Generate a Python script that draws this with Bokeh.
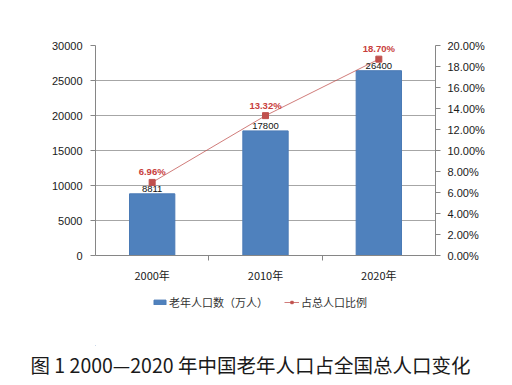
from bokeh.plotting import figure
from bokeh.layouts import column
from bokeh.models import (Range1d, LinearAxis, FixedTicker, PrintfTickFormatter,
                          Legend, LegendItem, Title, ColumnDataSource)
from bokeh.core.properties import value
from bokeh.embed import file_html
from bokeh.resources import INLINE
import numpy as np

categories = ["2000年", "2010年", "2020年"]
elderly = [8811, 17800, 26400]          # 老年人口数（万人）
ratio = [6.96, 13.32, 18.70]           # 占总人口比例 (%)
left_ticks = [0, 5000, 10000, 15000, 20000, 25000, 30000]
right_ticks = [0, 2, 4, 6, 8, 10, 12, 14, 16, 18, 20]
series_names = ["老年人口数（万人）", "占总人口比例"]
caption = "图 1  2000—2020 年中国老年人口占全国总人口变化"

BAR = "#4f81bd"
RED = "#c0504d"
xpos = np.arange(len(categories)) + 0.5
src = ColumnDataSource(dict(
    x=xpos, top=elderly, pct=ratio,
    top_lbl=[str(v) for v in elderly],
    pct_lbl=[f"{v:.2f}%" for v in ratio],
))

FONT = "Liberation Sans"
CJK = "Noto Sans CJK SC"

p = figure(frame_width=340, frame_height=210, x_range=Range1d(0, 3), y_range=Range1d(0, 30000),
           output_backend="svg", toolbar_location=None,
           min_border_left=95, min_border_right=61, min_border_top=45, min_border_bottom=0)
p.extra_y_ranges = {"pct": Range1d(0, 20)}
p.outline_line_color = None

# x axis
xa = p.xaxis[0]
xa.ticker = FixedTicker(ticks=list(xpos), minor_ticks=[1, 2])
xa.major_label_overrides = {float(x): c for x, c in zip(xpos, categories)}
xa.major_tick_out = 0
xa.major_tick_in = 0
xa.minor_tick_out = 5
xa.minor_tick_in = 0
xa.minor_tick_line_color = "#868686"
xa.axis_line_color = "#868686"
xa.major_label_standoff = 6
xa.major_label_text_font = CJK
xa.major_label_text_font_size = "11px"
xa.major_label_text_color = "#1a1a1a"

# left axis
ya = p.yaxis[0]
ya.ticker = FixedTicker(ticks=left_ticks)
ya.axis_line_color = "#868686"
ya.major_tick_line_color = "#868686"
ya.major_tick_out = 5
ya.major_tick_in = 0
ya.minor_tick_line_color = None
ya.major_label_standoff = 8
ya.major_label_text_font = FONT
ya.major_label_text_font_size = "11px"
ya.major_label_text_color = "#1a1a1a"

p.xgrid.visible = False
p.ygrid.ticker = FixedTicker(ticks=left_ticks)
p.ygrid.grid_line_color = "#a6a6a6"

# right axis
ra = LinearAxis(y_range_name="pct", ticker=FixedTicker(ticks=right_ticks),
                formatter=PrintfTickFormatter(format="%.2f%%"))
ra.axis_line_color = "#868686"
ra.major_tick_line_color = "#868686"
ra.major_tick_out = 5
ra.major_tick_in = 0
ra.minor_tick_line_color = None
ra.major_label_standoff = 7
ra.major_label_text_font = FONT
ra.major_label_text_font_size = "11px"
ra.major_label_text_color = "#1a1a1a"
p.add_layout(ra, "right")

p.vbar(x="x", top="top", width=0.4, source=src, fill_color=BAR, line_color="#4a7ab5")
p.line(x="x", y="pct", source=src, y_range_name="pct",
       line_color=RED, line_width=1, line_alpha=0.75)
p.scatter(x="x", y="pct", source=src, y_range_name="pct", marker="square",
          size=6, fill_color=RED, line_color=RED)

p.text(x="x", y="top", text="top_lbl", source=src, text_align="center",
       text_baseline="bottom", y_offset=-2, text_font=value(FONT),
       text_font_size="9.5px", text_color="#111111")
p.text(x="x", y="pct", text="pct_lbl", source=src, y_range_name="pct",
       text_align="center", text_baseline="bottom", y_offset=-5,
       text_font=value(FONT), text_font_size="9.5px", text_font_style="bold",
       text_color="#c8403c")

# lower strip: legend + caption
FH2 = 60
q = figure(frame_width=340, frame_height=FH2, x_range=Range1d(0, 1), y_range=Range1d(0, 1),
           output_backend="svg", toolbar_location=None,
           min_border_left=95, min_border_right=61, min_border_top=0, min_border_bottom=0,
           x_axis_location=None, y_axis_location=None)
q.outline_line_color = None
q.grid.visible = False
# legend proxies: one point placed outside the visible range
proxy = ColumnDataSource(dict(x=[-5], y=[-5]))
lb = q.vbar(x="x", top="y", width=1, source=proxy, fill_color=BAR, line_color="#4a7ab5")
ll = q.line(x="x", y="y", source=proxy, line_color=RED, line_width=1, line_alpha=0.75)
lm = q.scatter(x="x", y="y", source=proxy, marker="square", size=4,
               fill_color=RED, line_color=RED)

legend = Legend(items=[LegendItem(label=series_names[0], renderers=[lb]),
                       LegendItem(label=series_names[1], renderers=[ll, lm])],
                orientation="horizontal", location=(57, 35))
legend.background_fill_alpha = 0
legend.border_line_color = None
legend.label_text_font = CJK
legend.label_text_font_size = "11px"
legend.label_text_color = "#333333"
legend.label_height = 16
legend.glyph_width = 15
legend.glyph_height = 6
legend.label_standoff = 2
legend.spacing = 16
legend.padding = 0
legend.margin = 0
q.add_layout(legend, "center")

cap = Title(text=caption, align="left", offset=-65, standoff=5,
            text_font=CJK, text_font_size="19.5px", text_font_style="normal",
            text_color="#1a1a1a")
q.add_layout(cap, "below")

open("out.html", "w").write(file_html(column(p, q), INLINE))
